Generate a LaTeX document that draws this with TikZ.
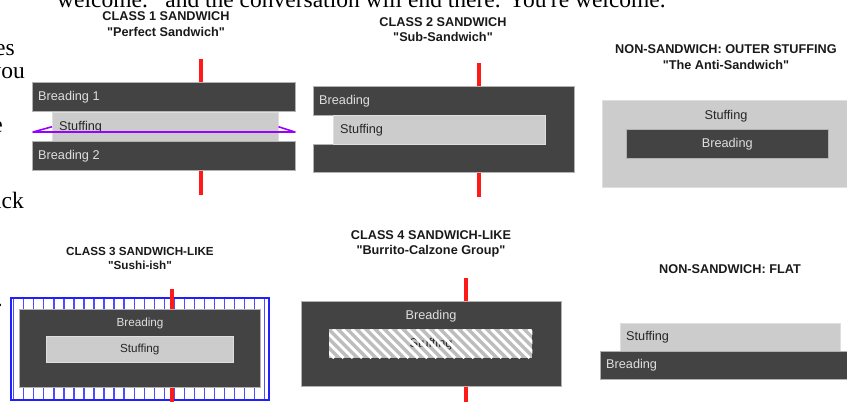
\documentclass[tikz,border=0pt]{standalone}
\usepackage{fontspec}
\setmainfont{Liberation Sans}
\newfontfamily\proseserif{Liberation Serif}
\usetikzlibrary{calc,positioning}
\definecolor{breadgray}{HTML}{434343}
\definecolor{stuffgray}{HTML}{CCCCCC}
\definecolor{hatchgray}{HTML}{BDBDBD}
\definecolor{skewred}{HTML}{FF1A1A}
\definecolor{wrapblue}{HTML}{1F1FFF}
\definecolor{wraplines}{HTML}{4D4DFF}
\definecolor{pickpurple}{HTML}{9900FF}
\newcommand\labfont{\fontsize{12.7}{15}\selectfont}
\newcommand\smallfont{\fontsize{11.7}{14}\selectfont}
\newcommand\ttlfont{\fontsize{12.7}{15.5}\selectfont\bfseries}
% straight double quote, kept out of the tex-text mapping
\newcommand\dq{\XeTeXglyph\XeTeXcharglyph"22\relax}
\tikzstyle{br}=[rectangle,inner sep=0pt,anchor=north west,draw=gray!60,line width=0.5pt,fill=breadgray,text=gray!25,font=\labfont]
\tikzstyle{st}=[rectangle,inner sep=0pt,anchor=north west,draw=gray!25,line width=0.5pt,fill=stuffgray,text=black!85,font=\labfont]
\tikzstyle{lbl}=[inner sep=0pt,font=\labfont]
\tikzset{
	skewer/.style={draw=skewred,line width=4pt},
	pick/.style={draw=pickpurple,line width=1.6pt,line join=round},
	ttl/.style={align=center,font=\ttlfont,text=black!90,inner sep=0pt},
	prose/.style={inner sep=0pt,anchor=base east,font=\proseserif\fontsize{23.5}{27}\selectfont}
}

\begin{document}
\begin{tikzpicture}[x=1pt,y=-1pt]
    \useasboundingbox (0,0) rectangle (847,402);
    \clip (0,0) rectangle (847,402);
    % text of the page round the picture
    \node (prose) [prose,anchor=base west] at (57,7) {welcome.\dq{} and the conversation will end there. You're welcome.\dq};
    \node (frag1) [prose] at (15,55) {es};
    \node (frag2) [prose] at (25,78) {you};
    \node (frag3) [prose] at (3,132) {e};
    \node (frag4) [prose] at (24,208) {back};
    \node (frag5) [prose] at (3,306) {.};

    % class 1
    \node (t1) [ttl] at (166,24) {CLASS 1 SANDWICH\\\dq Perfect Sandwich\dq};
    \coordinate (p1top) at (201,59);
    \coordinate (p1bot) at (201,195);
    \draw[skewer] (p1top) -- (p1bot);
    \node (p1b1) [br,minimum width=263pt,minimum height=29pt] at (32,82) {};
    \node (p1st) [st,minimum width=226pt,minimum height=29pt] at (52,112) {};
    \node (p1b2) [br,minimum width=263pt,minimum height=29pt] at (32,141) {};
    \node (p1lb1) [lbl,text=gray!25,right=6pt of p1b1.west] {Breading 1};
    \node (p1lst) [lbl,text=black!85,right=7pt of p1st.west] {Stuffing};
    \node (p1lb2) [lbl,text=gray!25,right=6pt of p1b2.west] {Breading 2};
    \coordinate (pickL) at (33,132);
    \coordinate (pickR) at (295,132);
    \draw[pick] (p1st.west) -- (pickL) -- (pickR) -- (p1st.east);

    % class 2
    \node (t2) [ttl] at (443,29.5) {CLASS 2 SANDWICH\\\dq Sub-Sandwich\dq};
    \coordinate (p2top) at (479,63);
    \coordinate (p2bot) at (479,197);
    \draw[skewer] (p2top) -- (p2bot);
    \draw[fill=breadgray,draw=gray!60,line width=0.5pt] (313,86) -- (574,86) -- (574,172) -- (313,172)
      -- (313,144) -- (333,144) -- (333,115) -- (313,115) -- cycle;
    \node (p2st) [st,minimum width=212pt,minimum height=29pt] at (333,115) {};
    \node (p2lb) [lbl,text=gray!25,anchor=west] at (319,101) {Breading};
    \node (p2lst) [lbl,text=black!85,right=7pt of p2st.west] {Stuffing};

    % outer stuffing
    \node (t3) [ttl] at (726,57) {NON-SANDWICH: OUTER STUFFING\\\dq The Anti-Sandwich\dq};
    \node (p3st) [st,minimum width=250pt,minimum height=87pt] at (602,100) {};
    \node (p3br) [br,minimum width=202pt,minimum height=29pt] at (626,129) {Breading};
    \node (p3lst) [lbl,text=black!85] at (726,116) {Stuffing};

    % class 3
    \node (t4) [ttl,font=\smallfont\bfseries] at (140,258) {CLASS 3 SANDWICH-LIKE\\\dq Sushi-ish\dq};
    \foreach \k in {0,...,25}
      \draw[wraplines,line width=1.3pt] ({13.7+10.04*\k},298) -- ({13.7+10.04*\k},399);
    \node (p4wrap) [draw=wrapblue,line width=2.2pt,inner sep=0pt,anchor=north west,minimum width=258pt,minimum height=102pt] at (10,297) {};
    \coordinate (p4top) at (172,289);
    \coordinate (p4bot) at (172,405);
    \draw[skewer] (p4top) -- (p4bot);
    \node (p4br) [br,minimum width=241pt,minimum height=78pt] at (19,309) {};
    \node (p4lb) [lbl,text=gray!25,font=\smallfont] at (140,323) {Breading};
    \node (p4st) [st,font=\smallfont,minimum width=187pt,minimum height=26pt] at (46,336) {Stuffing};

    % class 4
    \node (t5) [ttl] at (431,244) {CLASS 4 SANDWICH-LIKE\\\dq Burrito-Calzone Group\dq};
    \coordinate (p5top) at (466,278);
    \coordinate (p5bot) at (466,405);
    \draw[skewer] (p5top) -- (p5bot);
    \node (p5br) [br,minimum width=260pt,minimum height=85pt] at (301,301) {};
    \node (p5lb) [lbl,text=gray!25] at (431,316) {Breading};
    \node (p5st) [rectangle,inner sep=0pt,anchor=north west,fill=hatchgray,minimum width=203pt,minimum height=29pt] at (329,329) {};
    \node (p5lst) [lbl,text=black!85] at (431,344) {Stuffing};
    \begin{scope}
      \clip (p5st.north west) rectangle (p5st.south east);
      \foreach \s in {-33,-23.7,...,210}
        \draw[white,line width=2.9pt] ({329+\s},329) -- ++(29,29);
    \end{scope}

    % flat
    \node (t6) [ttl] at (730,269) {NON-SANDWICH: FLAT};
    \node (p6st) [st,minimum width=220pt,minimum height=28pt] at (620,323) {};
    \node (p6br) [br,minimum width=250pt,minimum height=28pt] at (600,351) {};
    \node (p6lst) [lbl,text=black!85,right=6pt of p6st.west] {Stuffing};
    \node (p6lb) [lbl,text=gray!25,right=6pt of p6br.west] {Breading};
\end{tikzpicture}
\end{document}
